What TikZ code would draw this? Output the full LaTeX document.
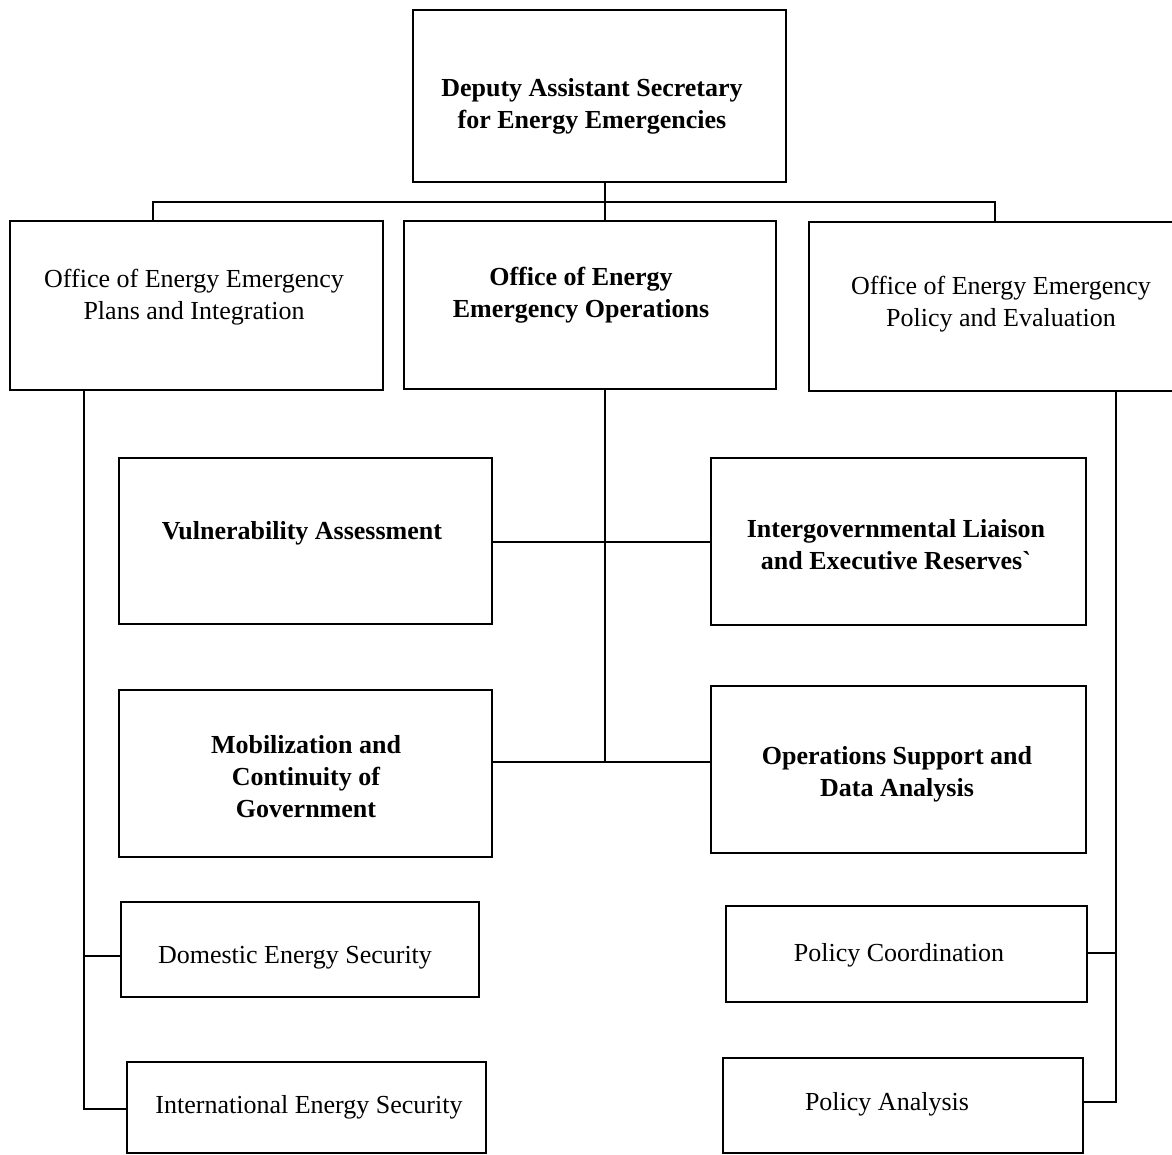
\documentclass[tikz,border=0pt]{standalone}
\usepackage{fontspec}
\setmainfont{Liberation Serif}
\begin{document}
\begin{tikzpicture}[x=1pt,y=-1pt,
  box/.style={draw, line width=2.8pt, inner sep=0pt},
  link/.style={line width=2.8pt},
  lbl/.style={font=\fontsize{26}{32}\selectfont, align=center, inner sep=0pt},
  blbl/.style={lbl, font=\fontsize{26}{32}\selectfont\bfseries}]
\useasboundingbox (0,0) rectangle (1172,1155);

% ---- boxes ----
\node[box, minimum width=373pt, minimum height=172pt] (top)  at (599.5,96) {};
\node[box, minimum width=373pt, minimum height=169pt] (offL) at (196.5,305.5) {};
\node[box, minimum width=372pt, minimum height=168pt] (offM) at (590,305) {};
\node[box, minimum width=373pt, minimum height=169pt] (offR) at (995.5,306.5) {};
\node[box, minimum width=373pt, minimum height=166pt] (va)   at (305.5,541) {};
\node[box, minimum width=375pt, minimum height=167pt] (il)   at (898.5,541.5) {};
\node[box, minimum width=373pt, minimum height=167pt] (mob)  at (305.5,773.5) {};
\node[box, minimum width=375pt, minimum height=167pt] (os)   at (898.5,769.5) {};
\node[box, minimum width=358pt, minimum height=95pt]  (dom)  at (300,949.5) {};
\node[box, minimum width=359pt, minimum height=91pt]  (intl) at (306.5,1107.5) {};
\node[box, minimum width=361pt, minimum height=96pt]  (pc)   at (906.5,954) {};
\node[box, minimum width=360pt, minimum height=95pt]  (pa)   at (903,1105.5) {};

% ---- texts ----
\node[blbl] (topT)  at (592,106)   {Deputy Assistant Secretary\\for Energy Emergencies};
\node[lbl]  (offLT) at (194,297.5) {Office of Energy Emergency\\Plans and Integration};
\node[blbl] (offMT) at (581,295.5) {Office of Energy\\Emergency Operations};
\node[lbl]  (offRT) at (1001,304)  {Office of Energy Emergency\\Policy and Evaluation};
\node[blbl] (vaT)   at (302,533)   {Vulnerability Assessment};
\node[blbl] (ilT)   at (896,544.5) {Intergovernmental Liaison\\and Executive Reserves\textasciigrave};
\node[blbl] (mobT)  at (306,777)   {Mobilization and\\Continuity of\\Government};
\node[blbl] (osT)   at (897,774)   {Operations Support and\\Data Analysis};
\node[lbl]  (domT)  at (295,958)   {Domestic Energy Security};
\node[lbl]  (intlT) at (309,1107.5){International Energy Security};
\node[lbl]  (pcT)   at (899,955)   {Policy Coordination};
\node[lbl]  (paT)   at (887,1104)  {Policy Analysis};

% ---- junction points ----
\coordinate (busC) at (605,202);
\coordinate (busL) at (153,202);
\coordinate (busR) at (995,202);
\coordinate (spine) at (605,762);
\coordinate (vaJ) at (605,542);
\coordinate (lTrunk) at (84,1109);
\coordinate (domJ) at (84,956);
\coordinate (rTrunk) at (1116,1102);
\coordinate (pcJ) at (1116,953);

% ---- connectors ----
\draw[link] (top.south -| busC) -- (busC) -- (offM.north -| busC);
\draw[link] (offL.north -| busL) |- (busR) -- (offR.north -| busR);
\draw[link] (offM.south -| spine) -- (spine);
\draw[link] (va.east |- vaJ) -- (il.west |- vaJ);
\draw[link] (mob.east |- spine) -- (os.west |- spine);
\draw[link] (offL.south -| lTrunk) -- (lTrunk) -- (intl.west |- lTrunk);
\draw[link] (domJ) -- (dom.west |- domJ);
\draw[link] (offR.south -| rTrunk) -- (rTrunk) -- (pa.east |- rTrunk);
\draw[link] (pcJ) -- (pc.east |- pcJ);
\end{tikzpicture}
\end{document}
